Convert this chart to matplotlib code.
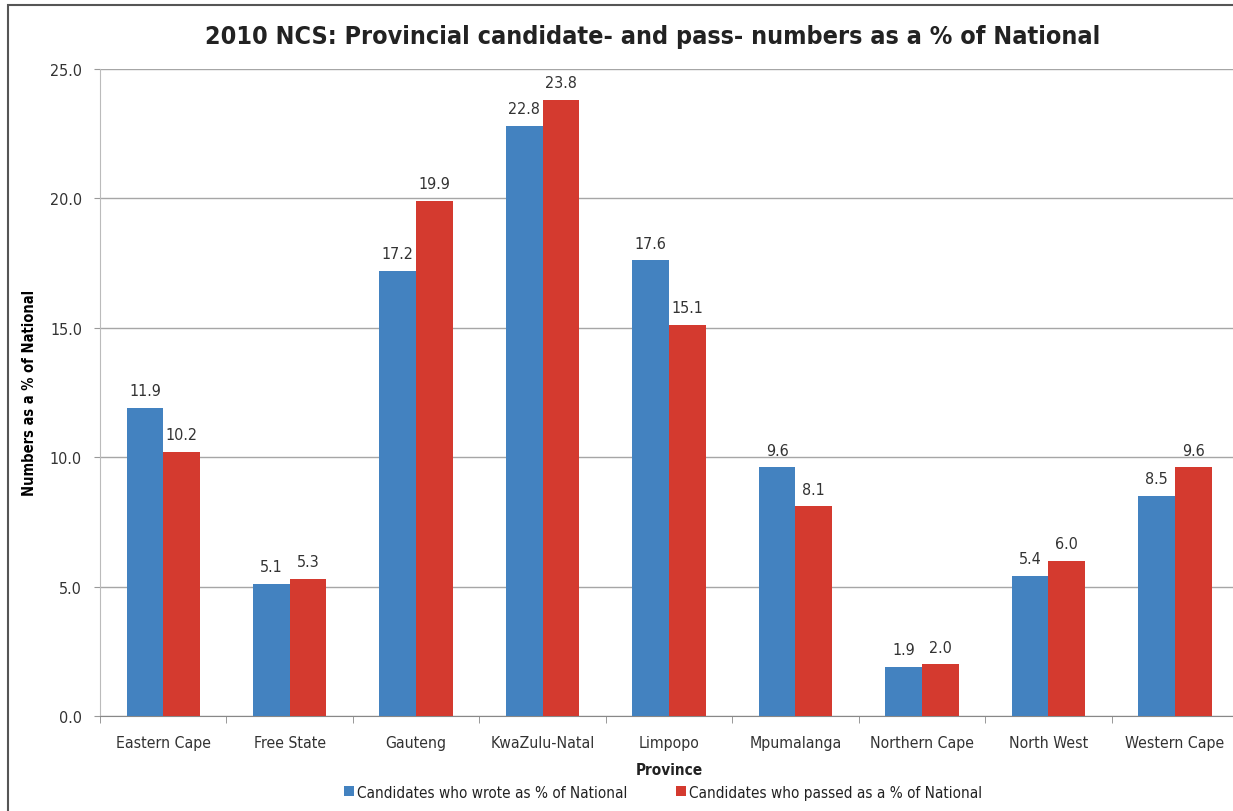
import matplotlib.pyplot as plt
import numpy as np
from matplotlib.patches import Rectangle

# Data
provinces = ['Eastern Cape', 'Free State', 'Gauteng', 'KwaZulu-Natal', 'Limpopo',
             'Mpumalanga', 'Northern Cape', 'North West', 'Western Cape']
wrote = [11.9, 5.1, 17.2, 22.8, 17.6, 9.6, 1.9, 5.4, 8.5]
passed = [10.2, 5.3, 19.9, 23.8, 15.1, 8.1, 2.0, 6.0, 9.6]

plt.rcParams['font.family'] = ['DejaVu Sans']
plt.rcParams['font.stretch'] = 'condensed'

fig = plt.figure(figsize=(12.33, 8.12), dpi=100)
ax = fig.add_axes([0.0811, 0.117, 0.923, 0.797])

x = np.arange(len(provinces))
w = 0.29
b1 = ax.bar(x - w/2, wrote, w, color='#4382c0', label='Candidates who wrote as % of National', zorder=3)
b2 = ax.bar(x + w/2, passed, w, color='#d43a2f', label='Candidates who passed as a % of National', zorder=3)

# Value labels
for bars, vals in ((b1, wrote), (b2, passed)):
    for r, v in zip(bars, vals):
        ax.annotate(f"{v:.1f}", (r.get_x() + r.get_width()/2, r.get_height()),
                    textcoords="offset points", xytext=(0, 7), ha='center', va='bottom',
                    fontsize=11.5, color='#333333')

ax.set_xlim(-0.5, len(provinces) - 0.5)
ax.set_ylim(0, 25)
ax.set_yticks(np.arange(0, 25.1, 5))
ax.set_yticklabels([f"{t:.1f}" for t in np.arange(0, 25.1, 5)])
ax.yaxis.grid(True, color='#a6a6a6', linewidth=1)
ax.set_axisbelow(True)

ax.set_xticks(x)
ax.set_xticklabels(provinces)
ax.set_xticks(np.arange(-0.5, len(provinces)), minor=True)
ax.tick_params(axis='x', which='major', length=0, pad=14, labelsize=11.3, labelcolor='#333333')
ax.tick_params(axis='x', which='minor', length=5, color='#888888')
ax.tick_params(axis='y', length=4, color='#999999', labelsize=11.5, labelcolor='#333333', pad=9)

for s in ('top', 'right'):
    ax.spines[s].set_visible(False)
ax.spines['left'].set_color('#bbbbbb')
ax.spines['bottom'].set_color('#888888')

ax.set_xlabel('Province', fontsize=11, fontweight='bold', labelpad=8, color='#222222')
ax.set_ylabel('Numbers as a % of National', fontsize=10.5, fontweight='bold')
ax.yaxis.set_label_coords(-0.0554, 0.5)

fig.text(0.5296, 0.955, '2010 NCS: Provincial candidate- and pass- numbers as a % of National',
         ha='center', va='center', fontsize=18, fontweight='bold', color='#222222')

ax.legend(loc='upper center', bbox_to_anchor=(0.495, -0.085), ncol=2, frameon=False,
          fontsize=11, handlelength=0.65, handleheight=0.65, handletextpad=0.2,
          columnspacing=3.2, labelcolor='#222222')

# Outer border
fig.patches.append(Rectangle((8/1233, -0.1), 1.2, 0.1 + (812-6)/812, transform=fig.transFigure,
                             fill=False, edgecolor='#555555', linewidth=1.5))

fig.savefig('out.png', dpi=100)
